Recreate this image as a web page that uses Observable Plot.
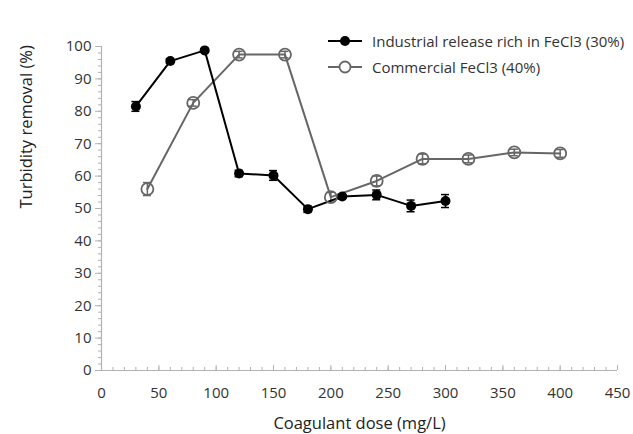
<!DOCTYPE html>
<html><head><meta charset="utf-8">
<script src="https://cdn.jsdelivr.net/npm/d3@7"></script>
<script src="https://cdn.jsdelivr.net/npm/@observablehq/plot@0.6"></script>
<style>
body{margin:0;background:#fff;font-family:"Open Sans",sans-serif;}
#wrap{position:relative;width:633px;height:434px;}
#legend{position:absolute;left:326px;top:28px;font-size:15px;color:#333;}
#legend div{display:flex;align-items:center;height:26px;}
#legend svg{margin-right:8px;}
</style></head><body>
<div id="wrap"><div id="chart"></div>
<div id="legend">
<div><svg width="38" height="14"><line x1="2" x2="36" y1="7" y2="7" stroke="#000" stroke-width="2"/><circle cx="19" cy="7" r="5" fill="#000"/></svg>Industrial release rich in FeCl3 (30%)</div>
<div><svg width="38" height="14"><line x1="2" x2="36" y1="7" y2="7" stroke="#666" stroke-width="2"/><circle cx="19" cy="7" r="5.5" fill="#fff" stroke="#666" stroke-width="1.8"/></svg>Commercial FeCl3 (40%)</div>
</div></div>
<script>
const indDose = [30, 60, 90, 120, 150, 180, 210, 240, 270, 300];
const indRemoval = [81.5, 95.5, 98.8, 60.8, 60.2, 49.8, 53.7, 54.2, 50.8, 52.3];
const indErr = [1.5, 0.7, 0.5, 1.0, 1.5, 1.0, 0.8, 1.5, 1.8, 2.0];
const comDose = [40, 80, 120, 160, 200, 240, 280, 320, 360, 400];
const comRemoval = [56, 82.6, 97.5, 97.5, 53.5, 58.5, 65.3, 65.3, 67.3, 67];
const comErr = [2.0, 1.0, 1.0, 1.0, 1.5, 1.5, 1.5, 1.2, 1.0, 1.2];
const xTicks = [0, 50, 100, 150, 200, 250, 300, 350, 400, 450];
const yTicks = [0, 10, 20, 30, 40, 50, 60, 70, 80, 90, 100];
const xMinor = d3.range(0, 451, 10);
const yMinor = d3.range(0, 101, 2);

const ind = indDose.map((d, i) => ({x: d, y: indRemoval[i], e: indErr[i]}));
const com = comDose.map((d, i) => ({x: d, y: comRemoval[i], e: comErr[i]}));
const axisColor = "#b3b3b3";
const cap = 3.5;

const chart = Plot.plot({
  width: 633, height: 434,
  marginLeft: 101, marginRight: 16, marginTop: 46, marginBottom: 64,
  style: {fontFamily: "Open Sans, sans-serif", fontSize: "15px", color: "#333", background: "#fff"},
  x: {domain: [0, 450], type: "linear"},
  y: {domain: [0, 100], type: "linear"},
  marks: [
    Plot.axisX({ticks: xMinor, tickSize: -3, stroke: axisColor, tickFormat: () => "", label: null}),
    Plot.axisX({ticks: xTicks, tickSize: -5, tickPadding: 22, stroke: axisColor, fill: "#333", fontSize: 15, label: null}),
    Plot.axisY({ticks: yMinor, tickSize: 3, stroke: axisColor, tickFormat: () => "", label: null}),
    Plot.axisY({ticks: yTicks, tickSize: 6, stroke: axisColor, tickPadding: 4, fill: "#333", fontSize: 15, label: null}),
    Plot.ruleY([0], {stroke: axisColor, strokeWidth: 1.2}),
    Plot.ruleX([0], {stroke: axisColor, strokeWidth: 1.2}),
    Plot.text(["Coagulant dose (mg/L)"], {frameAnchor: "bottom", dy: 58, fontSize: 16.5, fill: "#222"}),
    Plot.text(["Turbidity removal (%)"], {frameAnchor: "left", dx: -75, rotate: -90, fontSize: 16.5, fill: "#222"}),
    // error bars
    Plot.ruleX(com, {x: "x", y1: d => d.y - d.e, y2: d => d.y + d.e, stroke: "#666", strokeWidth: 1.5}),
    Plot.ruleY(com, {y: d => d.y - d.e, x1: d => d.x - cap, x2: d => d.x + cap, stroke: "#666", strokeWidth: 1.5}),
    Plot.ruleY(com, {y: d => d.y + d.e, x1: d => d.x - cap, x2: d => d.x + cap, stroke: "#666", strokeWidth: 1.5}),
    Plot.ruleX(ind, {x: "x", y1: d => d.y - d.e, y2: d => d.y + d.e, stroke: "#000", strokeWidth: 1.5}),
    Plot.ruleY(ind, {y: d => d.y - d.e, x1: d => d.x - cap, x2: d => d.x + cap, stroke: "#000", strokeWidth: 1.5}),
    Plot.ruleY(ind, {y: d => d.y + d.e, x1: d => d.x - cap, x2: d => d.x + cap, stroke: "#000", strokeWidth: 1.5}),
    // lines
    Plot.line(com, {x: "x", y: "y", stroke: "#666", strokeWidth: 2}),
    Plot.line(ind, {x: "x", y: "y", stroke: "#000", strokeWidth: 2}),
    Plot.dot(com, {x: "x", y: "y", r: 6, fill: "none", stroke: "#666", strokeWidth: 1.8}),
    Plot.dot(ind, {x: "x", y: "y", r: 5, fill: "#000", stroke: "none"})
  ]
});
document.getElementById("chart").appendChild(chart);
</script>
</body></html>
